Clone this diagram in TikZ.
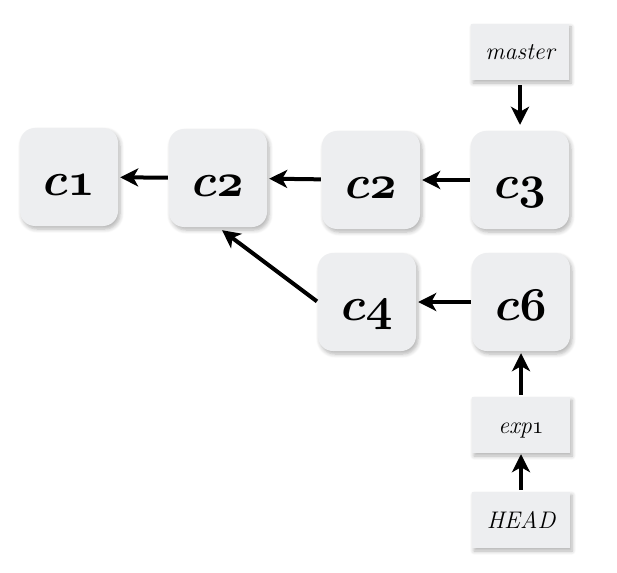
\RequirePackage{fix-cm}
\documentclass[tikz,border=0pt]{standalone}
\usetikzlibrary{arrows.meta,shadows.blur}
\definecolor{boxgray}{HTML}{EDEEF0}
\tikzstyle{commit}=[rectangle,rounded corners=15pt,fill=boxgray,minimum width=98pt,minimum height=98pt,inner sep=0pt,text height=36pt,text depth=0pt,blur shadow={shadow xshift=2pt,shadow yshift=-3pt,shadow blur steps=6,shadow blur radius=4pt,shadow opacity=30},font=\fontsize{47}{47}\selectfont\boldmath]
\tikzstyle{refbox}=[rectangle,fill=boxgray,minimum width=98pt,minimum height=56pt,inner sep=0pt,text height=16pt,text depth=0pt,blur shadow={shadow xshift=2pt,shadow yshift=-3pt,shadow blur steps=6,shadow blur radius=4pt,shadow opacity=30},font=\fontsize{24}{24}\selectfont\itshape]
\tikzstyle{ln}=[line width=4pt,-{Stealth[length=18pt,width=18pt,inset=5pt]},shorten <=1pt,shorten >=2pt]
\begin{document}
\begin{tikzpicture}[x=1pt,y=-1pt]
\useasboundingbox (0,0) rectangle (617,572);
% commits
\node[commit] (c1) at (69,177) {$\mathnormal{c1}$};
\node[commit] (c2a) at (218,178) {$\mathnormal{c2}$};
\node[commit] (c2b) at (371,180) {$\mathnormal{c2}$};
\node[commit] (c3) at (520,180) {$\mathnormal{c3}$};
\node[commit] (c4) at (367,302) {$\mathnormal{c4}$};
\node[commit] (c6) at (521,302) {$\mathnormal{c6}$};
% refs
\node[refbox] (master) at (520,52) {master};
\node[refbox] (exp1) at (521,425) {exp$\mathnormal{1}$};
\node[refbox] (head) at (521,520) {HEAD};
% links
\draw[ln] (c2a) -- (c1);
\draw[ln] (c2b) -- (c2a);
\draw[ln] (c3) -- (c2b);
\draw[ln] (c6) -- (c4);
\draw[ln,shorten >=5pt] (c4.west) -- (c2a.south);
\draw[ln,shorten <=5pt,shorten >=6pt] (master) -- (c3);
\draw[ln,shorten <=2pt,shorten >=2pt] (exp1) -- (c6);
\draw[ln,shorten <=2pt,shorten >=1pt] (head) -- (exp1);
\end{tikzpicture}
\end{document}
